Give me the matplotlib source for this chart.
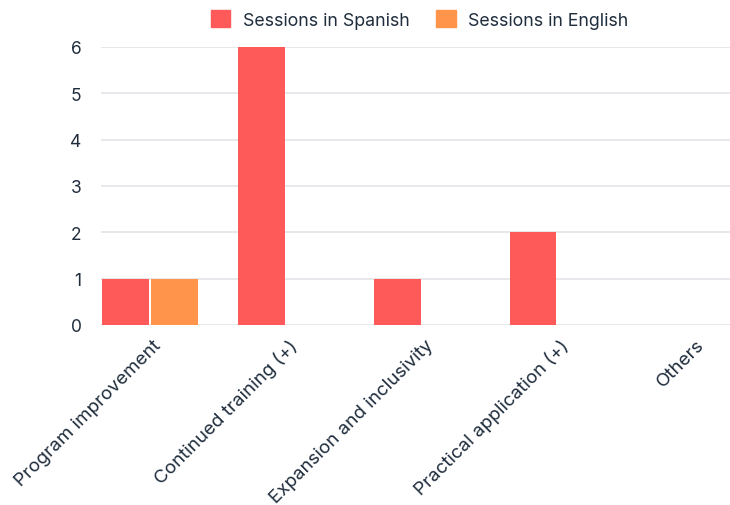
import numpy as np
import matplotlib.pyplot as plt
from matplotlib.patches import Patch

# Feedback themes and counts per session language
categories = ['Program improvement', 'Continued training (+)', 'Expansion and inclusivity',
              'Practical application (+)', 'Others']
spanish = [1, 6, 1, 2, 0]
english = [1, 0, 0, 0, 0]

red = '#ff5a5a'
orange = '#ff944a'
text_col = '#1f2d3d'
grid_col = '#e1e4e8'

plt.rcParams['font.family'] = ['Inter', 'DejaVu Sans']

fig = plt.figure(figsize=(7.30, 5.06), dpi=100)
ax = fig.add_axes([101 / 730, 180 / 506, 629 / 730, 278 / 506])

x = np.arange(len(categories))
w = 0.345
ax.bar(x - w / 2 - 0.008, spanish, width=w, color=red, zorder=3)
ax.bar(x + w / 2 + 0.008, english, width=w, color=orange, zorder=3)

ax.set_xlim(-0.36, 4.27)
ax.set_ylim(0, 6)
ax.set_yticks(range(7))
ax.yaxis.grid(True, color=grid_col, linewidth=1.2, zorder=0)
ax.set_axisbelow(True)
for s in ax.spines.values():
    s.set_visible(False)

ax.tick_params(axis='y', length=0, pad=14, labelsize=12.5, labelcolor=text_col)
ax.tick_params(axis='x', length=0, pad=8, labelsize=13.5, labelcolor=text_col)
ax.set_xticks(x + 0.02)
ax.set_xticklabels(categories, rotation=45, ha='right', rotation_mode='anchor')

handles = [Patch(color=red, label='Sessions in Spanish'),
           Patch(color=orange, label='Sessions in English')]
fig.legend(handles=handles, loc='upper center', bbox_to_anchor=(0.575, 1.01), ncol=2,
           frameon=False, fontsize=12.8, labelcolor=text_col, handlelength=1.1,
           handleheight=1.1, columnspacing=1.5, handletextpad=0.7)

fig.savefig('out.png', dpi=100)
